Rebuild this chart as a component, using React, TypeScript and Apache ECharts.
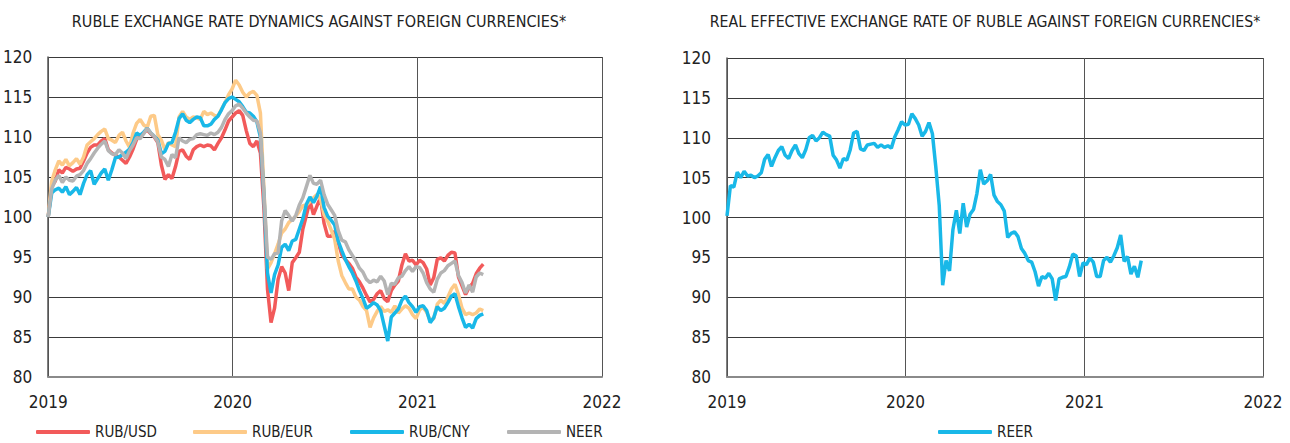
import React, { useEffect, useRef } from "react";
import * as echarts from "echarts";

const dates = [
  "2019-01-01","2019-01-08","2019-01-15","2019-01-22","2019-01-29","2019-02-05","2019-02-12","2019-02-19","2019-02-26",
  "2019-03-05","2019-03-12","2019-03-19","2019-03-26","2019-04-02","2019-04-09","2019-04-16","2019-04-23","2019-04-30",
  "2019-05-07","2019-05-14","2019-05-21","2019-05-28","2019-06-04","2019-06-11","2019-06-18","2019-06-25","2019-07-02",
  "2019-07-09","2019-07-16","2019-07-23","2019-07-30","2019-08-06","2019-08-13","2019-08-20","2019-08-27","2019-09-03",
  "2019-09-10","2019-09-17","2019-09-24","2019-10-01","2019-10-08","2019-10-15","2019-10-22","2019-10-29","2019-11-05",
  "2019-11-12","2019-11-19","2019-11-26","2019-12-03","2019-12-10","2019-12-17","2019-12-24","2019-12-31",
  "2020-01-07","2020-01-14","2020-01-21","2020-01-28","2020-02-04","2020-02-11","2020-02-18","2020-02-25",
  "2020-03-03","2020-03-10","2020-03-17","2020-03-24","2020-03-31","2020-04-07","2020-04-14","2020-04-21","2020-04-28",
  "2020-05-05","2020-05-12","2020-05-19","2020-05-26","2020-06-02","2020-06-09","2020-06-16","2020-06-23","2020-06-30",
  "2020-07-07","2020-07-14","2020-07-21","2020-07-28","2020-08-04","2020-08-11","2020-08-18","2020-08-25","2020-09-01",
  "2020-09-08","2020-09-15","2020-09-22","2020-09-29","2020-10-06","2020-10-13","2020-10-20","2020-10-27","2020-11-03",
  "2020-11-10","2020-11-17","2020-11-24","2020-12-01","2020-12-08","2020-12-15","2020-12-22","2020-12-29",
  "2021-01-05","2021-01-12","2021-01-19","2021-01-26","2021-02-02","2021-02-09","2021-02-16","2021-02-23",
  "2021-03-02","2021-03-09","2021-03-16","2021-03-23","2021-03-30","2021-04-06","2021-04-13","2021-04-20","2021-04-27",
  "2021-05-04","2021-05-11",
];

const rubUsd = [
  100, 103.8, 104.5, 105.9, 105.5, 106.2, 106, 105.7, 106, 106.1,
  107, 108, 108.7, 109, 109, 109.5, 109.8, 108.4, 108, 107.7,
  107.5, 107.1, 106.7, 107.5, 108.5, 109.7, 110.1, 110.5, 110.9, 110.4,
  110, 109.3, 106.5, 104.7, 105.3, 104.8, 106.3, 108.2, 108.4, 107.6,
  107.2, 108.4, 108.8, 109, 108.8, 109, 108.9, 108.4, 109.2, 109.9,
  110.9, 112, 112.5, 113, 113.3, 112.7, 110.8, 109.2, 108.8, 109.5,
  108, 101, 91, 86.8, 88.6, 92.2, 93.8, 93, 90.8, 94.3,
  94.9, 95.6, 98.5, 100.2, 102, 100.3, 101.4, 102.4, 99.2, 97.6,
  97.6, 98.2, 96.8, 95.3, 94.7, 94.2, 93.6, 92.5, 91.9, 91.1,
  90.2, 89.4, 89.7, 90.4, 90.8, 89.8, 89.4, 90.8, 91.5, 92,
  94, 95.4, 94.5, 94.6, 94, 94.6, 94.3, 93.5, 91.5, 92.4,
  94.7, 94.9, 94.5, 95.2, 95.6, 95.5, 92.5, 91.4, 90.3, 91.2,
  91.7, 92.9, 93.6, 94.1,
];

const rubEur = [
  100, 104.5, 105.9, 107, 106.5, 107.2, 106.4, 106.8, 107.3, 106.6,
  107.5, 109, 109.4, 109.8, 110.3, 110.7, 111, 109.8, 109.6, 109.3,
  110.2, 110.6, 109.5, 108.7, 110.5, 111.7, 112.2, 111.5, 111.2, 112.6,
  112.7, 110.3, 109.6, 108.4, 109.3, 109, 108.8, 112.5, 113.2, 112.5,
  112.2, 112.5, 112.4, 112.2, 113.2, 112.8, 113, 112.7, 112.6, 113.5,
  114.3, 115.3, 116, 117.1, 116.5, 115.6, 115, 115.5, 115.7, 115.2,
  113, 103.5, 93.5, 94.3, 95.4, 96.6, 98, 98.5, 99.3, 99.7,
  100.1, 100.7, 101.4, 101.5, 101.9, 102.4, 102.8, 102.2, 100.3, 99.5,
  98.4, 97.2, 94.5, 92.7, 91.8, 91, 91, 90, 89.6, 88.8,
  88.3, 86.2, 87.4, 88.2, 88.8, 88.2, 88.4, 88.1, 88.9, 88,
  88.5, 88.9, 88.6, 87.8, 87.3, 88.4, 88.7, 88.1, 87.1, 87.3,
  89.1, 89.6, 89.2, 90, 91, 91.6, 90.3, 88.6, 87.8, 88,
  87.8, 88, 88.5, 88.3,
];

const rubCny = [
  100, 103, 103.4, 103.6, 103.1, 103.8, 102.8, 103.2, 103.7, 102.8,
  104.2, 105.3, 105.8, 104.1, 104.8, 105.5, 106, 104.6, 105.9, 107.4,
  107.5, 107.8, 108.1, 108.5, 109.3, 110.5, 110.2, 110.6, 111.1, 110.5,
  110.1, 109.6, 107.9, 108.2, 109.2, 109.3, 110.6, 112.3, 112.9, 112.1,
  111.8, 112.2, 112.5, 112.4, 111.4, 111.4, 111.6, 112.2, 112.6, 113.4,
  114.3, 114.8, 115, 114.7, 114.4, 113.8, 113.1, 113, 112.6, 111.9,
  110, 102.6, 93, 90.5, 92.8, 94, 96.2, 96.6, 95.8, 97,
  97.2, 98.5, 99.8, 101.6, 102.5, 101.8, 102.6, 103.8, 101.2, 100.1,
  99.6, 99, 97, 95.8, 94.7, 93.8, 93, 92, 90.8, 89.8,
  88.6, 88.9, 89.3, 89, 88.3, 86.4, 84.5, 87.5, 88, 88.5,
  89.6, 90.1, 89.3, 88.8, 88.1, 88.8, 88.9, 88.3, 86.8, 87.4,
  88.8, 88.3, 88.6, 89.3, 90.1, 90.4, 88.8, 87.4, 86.2, 86.6,
  86.1, 87.3, 87.7, 87.9,
];

const neer = [
  100, 103.5, 104.6, 105.2, 104.3, 105, 104.6, 104.5, 105.1, 105.3,
  105.8, 106.7, 107.3, 108, 108.6, 109.1, 109.5, 108.3, 107.9, 107.8,
  108.4, 108, 107.3, 108.3, 109, 109.9, 109.8, 110.4, 111.1, 110.5,
  110.1, 109.4, 107.5, 107.2, 106.3, 107.8, 107.4, 109.9, 109.5, 109.3,
  109.7, 109.8, 110.3, 110.4, 110.3, 110.2, 110.5, 110.3, 110.6, 111.2,
  112.2, 112.9, 113.3, 113.9, 114.1, 113.6, 113, 112.5, 112.1, 112,
  110.5, 103, 95, 94.7, 95.4, 95.5, 99.5, 100.8, 100.2, 99.5,
  100.2, 101.5, 102.4, 103.8, 105.2, 104.2, 104.1, 104.6, 102.8, 101.6,
  100.9, 100.2, 98.3, 97.1, 96.9, 95.9, 95.2, 94.5, 93.6, 93.1,
  92.2, 91.8, 92.1, 91.9, 92.6, 92, 90.3, 91.7, 91.6, 92.4,
  92.6, 93.3, 93.8, 93.2, 93.8, 93.7, 93, 91.8, 91, 90.6,
  92.2, 93, 93.3, 93.9, 94.2, 94.5, 92.7, 91.8, 90.5, 91.5,
  90.6, 92.5, 93, 92.8,
];

const reer = [
  100.2, 104, 103.8, 105.7, 105, 105.8, 105.2, 105.3, 105, 105.2,
  105.6, 107.3, 107.9, 106.4, 107.5, 108.4, 108.9, 107.8, 107.4, 108.4,
  109.1, 108, 107.5, 108.5, 110, 110.3, 109.6, 110, 110.7, 110.4,
  110.2, 107.8, 107.2, 106.2, 107.4, 107.2, 108.5, 110.6, 110.8, 108.6,
  108.4, 109.1, 109.2, 109.3, 108.8, 109.1, 108.8, 109, 108.7, 110.1,
  111, 112, 111.6, 111.7, 113, 112.4, 111.6, 110.2, 110.8, 111.9,
  110.5, 106.3, 101.5, 91.5, 94.6, 93.3, 98.5, 100.9, 98, 101.8,
  98.8, 100.4, 101, 103, 106, 104.2, 104.6, 105.4, 102.8, 102,
  101.6, 100.8, 97.5, 98, 98.2, 97.6, 96.1, 95.5, 94.6, 94.4,
  93.2, 91.4, 92.6, 92.4, 93, 92.3, 89.6, 92.3, 92.5, 92.6,
  93.8, 95.4, 95.2, 92.6, 94.3, 94.1, 94.9, 94.4, 92.6, 92.6,
  94.6, 95, 94.4, 95.2, 96.2, 97.8, 94.5, 95.1, 92.9, 93.9,
  92.5, 94.6,
];

const leftSeriesNames = ["RUB/USD", "RUB/EUR", "RUB/CNY", "NEER"];
const rightSeriesNames = ["REER"];
const leftTitle = "RUBLE EXCHANGE RATE DYNAMICS AGAINST FOREIGN CURRENCIES*";
const rightTitle = "REAL EFFECTIVE EXCHANGE RATE OF RUBLE AGAINST FOREIGN CURRENCIES*";
const xStart = "2019-01-01";
const xEnd = "2022-01-01";
const yMin = 80;
const yMax = 120;
const yStep = 5;

const COLORS = {
  usd: "#F25A5A",
  eur: "#FDCA88",
  cny: "#19B8E8",
  neer: "#B4B4B4",
  reer: "#19B8E8",
};

const FONT = "'Liberation Sans Narrow', 'DejaVu Sans Condensed', Roboto, sans-serif";

const pair = (vals: number[]) => vals.map((v, i) => [dates[i], v]);

export default function App() {
  const ref = useRef<HTMLDivElement | null>(null);

  useEffect(() => {
    document.body.style.margin = "0";
    if (!ref.current) return;
    const chart = echarts.init(ref.current, undefined, { renderer: "svg" });

    const parseLocal = (s: string) => {
      const [y, m, d] = s.split("-").map(Number);
      return new Date(y, m - 1, d).getTime();
    };
    const YEAR = 365 * 24 * 3600 * 1000;

    const xAxisBase = (gridIndex: number) => ({
      type: "time" as const,
      gridIndex,
      min: parseLocal(xStart),
      max: parseLocal(xEnd),
      splitNumber: 3,
      minInterval: YEAR,
      axisLine: { show: true, lineStyle: { color: "#8a8a8a", width: 2 } },
      axisTick: { show: false },
      axisLabel: {
        formatter: "{yyyy}",
        color: "#222",
        fontSize: 17,
        fontFamily: FONT,
        margin: 16,
        showMinLabel: true,
        showMaxLabel: true,
      },
      splitLine: { show: true, lineStyle: { color: "#555", width: 1 } },
    });

    const yAxisBase = (gridIndex: number) => ({
      type: "value" as const,
      gridIndex,
      min: yMin,
      max: yMax,
      interval: yStep,
      axisLine: { show: true, lineStyle: { color: "#555", width: 1.5 } },
      axisTick: { show: false },
      axisLabel: { color: "#222", fontSize: 17, fontFamily: FONT, margin: 16 },
      splitLine: { show: true, lineStyle: { color: "#3a3a3a", width: 1.2 } },
    });

    const lineSeries = (name: string, vals: number[], color: string, idx: number) => ({
      name,
      type: "line" as const,
      xAxisIndex: idx,
      yAxisIndex: idx,
      data: pair(vals),
      showSymbol: false,
      symbol: "none",
      color,
      lineStyle: { color, width: 3.5 },
    });

    const legendBase = {
      top: 424,
      padding: 0,
      itemWidth: 54,
      itemHeight: 4,
      icon: "roundRect",
      textStyle: { color: "#222", fontSize: 15, fontFamily: FONT, lineHeight: 16 },
    };

    const titleStyle = { fontWeight: "normal" as const, color: "#222", fontFamily: FONT };

    chart.setOption({
      animation: false,
      title: [
        {
          text: leftTitle,
          left: 314,
          top: 8,
          textAlign: "center",
          textStyle: { ...titleStyle, fontSize: 16 },
        },
        {
          text: rightTitle,
          left: 980,
          top: 8,
          textAlign: "center",
          textStyle: { ...titleStyle, fontSize: 15.7 },
        },
      ],
      legend: [
        {
          ...legendBase,
          data: leftSeriesNames,
          left: 36,
          itemGap: 28,
          textStyle: { ...legendBase.textStyle, width: 70 },
        },
        { ...legendBase, data: rightSeriesNames, left: 938 },
      ],
      grid: [
        { left: 46, top: 57, width: 556, height: 320 },
        { left: 727, top: 58, width: 536, height: 319 },
      ],
      xAxis: [xAxisBase(0), xAxisBase(1)],
      yAxis: [yAxisBase(0), yAxisBase(1)],
      series: [
        lineSeries(leftSeriesNames[0], rubUsd, COLORS.usd, 0),
        lineSeries(leftSeriesNames[1], rubEur, COLORS.eur, 0),
        lineSeries(leftSeriesNames[2], rubCny, COLORS.cny, 0),
        lineSeries(leftSeriesNames[3], neer, COLORS.neer, 0),
        lineSeries(rightSeriesNames[0], reer, COLORS.reer, 1),
      ],
    });

    return () => chart.dispose();
  }, []);

  return <div ref={ref} style={{ width: 1290, height: 443 }} />;
}
